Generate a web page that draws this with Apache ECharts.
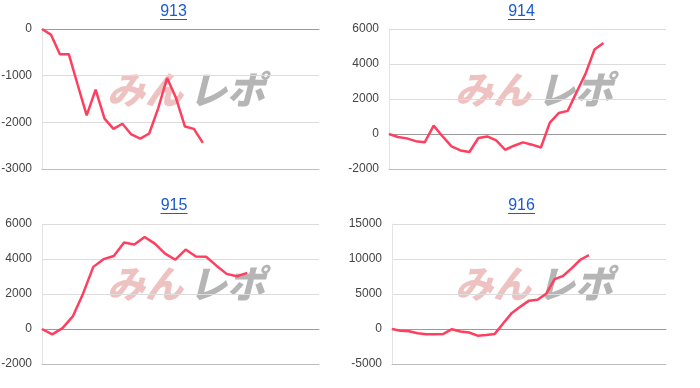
<!DOCTYPE html>
<html><head><meta charset="utf-8">
<script src="https://cdn.jsdelivr.net/npm/echarts@6/dist/echarts.min.js"></script>
<style>html,body{margin:0;padding:0;background:#fff}#c{width:700px;height:388px}</style>
</head><body><div id="c"></div>
<script>
const titles = ['913', '914', '915', '916'];
const values913 = [0, -120, -540, -540, -1200, -1850, -1300, -1920, -2140, -2030, -2260, -2350, -2240, -1700, -1050, -1480, -2090, -2140, -2440];
const values914 = [0, -170, -250, -410, -470, 480, -140, -710, -940, -1030, -230, -140, -365, -900, -670, -480, -610, -770, 650, 1200, 1320, 2400, 3450, 4830, 5200];
const values915 = [0, -310, 50, 720, 2020, 3550, 3990, 4170, 4940, 4830, 5260, 4880, 4310, 3960, 4540, 4140, 4130, 3620, 3150, 3010, 3210];
const values916 = [0, -250, -310, -600, -740, -740, -700, -30, -360, -500, -950, -850, -700, 830, 2300, 3200, 4050, 4170, 5030, 7130, 7600, 8700, 9890, 10560];
const seriesValues = [values913, values914, values915, values916];
const yMins = [-3000, -2000, -2000, -5000];
const yMaxs = [0, 6000, 6000, 15000];
const yIntervals = [1000, 2000, 2000, 5000];
const categoryCounts = [32, 32, 28, 33];

const grids = [
  {left: 42, top: 29, width: 277, height: 140, outerBoundsMode: 'none', containLabel: false},
  {left: 389, top: 29, width: 277, height: 140, outerBoundsMode: 'none', containLabel: false},
  {left: 42, top: 224, width: 277, height: 140, outerBoundsMode: 'none', containLabel: false},
  {left: 392, top: 224, width: 274, height: 140, outerBoundsMode: 'none', containLabel: false}
];
const titlePos = [[173.5, 12, 19], [521.5, 12, 19], [174, 206, 213], [521.5, 206, 213]];
const wmPos = [[107, 90], [455, 90], [107, 284], [455, 284]];

const chart = echarts.init(document.getElementById('c'), null, {renderer: 'canvas'});
const xAxis = [], yAxis = [], series = [], graphic = [];
grids.forEach((g, i) => {
  const cats = Array.from({length: categoryCounts[i]}, (_, k) => String(k + 1));
  xAxis.push({type: 'category', gridIndex: i, data: cats, boundaryGap: false,
    axisLine: {show: true, onZero: true, lineStyle: {color: '#9a9a9a', width: 1}},
    axisTick: {show: false}, axisLabel: {show: false}, splitLine: {show: false}});
  xAxis.push({type: 'category', gridIndex: i, data: cats, boundaryGap: false, position: 'bottom',
    axisLine: {show: true, onZero: false, lineStyle: {color: '#bdbdbd', width: 1}},
    axisTick: {show: false}, axisLabel: {show: false}, splitLine: {show: false}});
  yAxis.push({type: 'value', gridIndex: i, min: yMins[i], max: yMaxs[i], interval: yIntervals[i],
    axisLine: {show: true, lineStyle: {color: '#e4e4e4'}}, axisTick: {show: false},
    axisLabel: {color: '#444', fontSize: 12, fontFamily: 'Arial, "Liberation Sans", sans-serif', margin: 10,
      formatter: v => String(v)},
    splitLine: {show: true, lineStyle: {color: '#dcdcdc', width: 1}}});
  series.push({type: 'line', xAxisIndex: i * 2, yAxisIndex: i, data: seriesValues[i],
    symbol: 'none', smooth: false, lineStyle: {color: '#ff3f5f', width: 2.5}, z: 5});
  const t = titlePos[i];
  graphic.push({type: 'text', x: t[0], y: t[1], z: 10,
    style: {text: titles[i], fill: '#1a5bd0', fontSize: 16, fontFamily: 'Arial, "Liberation Sans", sans-serif',
      align: 'center', verticalAlign: 'middle'}});
  graphic.push({type: 'line', z: 10, shape: {x1: t[0] - 13.5, y1: t[2] + 0.5, x2: t[0] + 13.5, y2: t[2] + 0.5},
    style: {stroke: '#1a5bd0', lineWidth: 1}});
  const w = wmPos[i];
  graphic.push({type: 'text', x: w[0], y: w[1], z: 0, silent: true,
    style: {text: 'みん', fill: 'rgba(220,120,120,0.45)', fontSize: 38, fontWeight: 900, fontStyle: 'italic',
      fontFamily: '"Noto Sans CJK JP", sans-serif', align: 'left', verticalAlign: 'middle'}});
  graphic.push({type: 'text', x: w[0] + 82, y: w[1], z: 0, silent: true,
    style: {text: 'レポ', fill: 'rgba(150,150,150,0.7)', fontSize: 38, fontWeight: 900, fontStyle: 'italic',
      fontFamily: '"Noto Sans CJK JP", sans-serif', align: 'left', verticalAlign: 'middle'}});
});

chart.setOption({
  animation: false,
  backgroundColor: '#fff',
  grid: grids,
  xAxis: xAxis,
  yAxis: yAxis,
  series: series,
  graphic: graphic
});
</script></body></html>
